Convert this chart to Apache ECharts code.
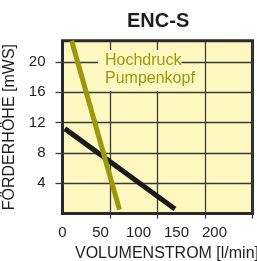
<!DOCTYPE html>
<html>
<head>
<meta charset="utf-8">
<script src="https://cdn.jsdelivr.net/npm/echarts@6/dist/echarts.min.js"></script>
<style>
  html, body { margin: 0; padding: 0; background: #fff; }
  #graph { width: 257px; height: 261px; }
</style>
</head>
<body>
<div id="graph"></div>
<script>
// pump curves (l/min, mWS)
var flowStd = [3, 148];
var headStd = [11.2, 0.6];
var flowHigh = [12, 75];
var headHigh = [22.8, 0.5];

var xTicks = [0, 50, 100, 150, 200];
var yTicks = [4, 8, 12, 16, 20];
var gridCols = [1, 2, 3, 4];

function pairs(xs, ys) {
  var out = [];
  for (var i = 0; i < xs.length; i++) out.push([xs[i], ys[i]]);
  return out;
}

var font = '"Liberation Sans", Arial, sans-serif';
var olive = '#9a990c';
var ink = '#1e1e1e';
var gridLine = '#3a3a3a';
var paper = '#fef8c0';

var dom = document.getElementById('graph');
var myChart = echarts.init(dom);

var option = {
  animation: false,
  title: {
    text: 'ENC-S',
    left: 127,
    top: 11,
    padding: 0,
    textStyle: { fontSize: 20, fontWeight: 'bold', color: ink, fontFamily: font }
  },
  grid: {
    left: 62.5,
    right: 4.5,
    top: 40.7,
    bottom: 47.5,
    show: true,
    backgroundColor: paper,
    borderColor: '#2a2a2a',
    borderWidth: 3,
    outerBoundsMode: 'none'
  },
  xAxis: [{
    type: 'value',
    min: 0,
    max: 250,
    interval: 50,
    position: 'bottom',
    axisLine: { show: false },
    axisTick: { show: false },
    splitLine: { show: false },
    axisLabel: {
      customValues: xTicks,
      fontSize: 15,
      margin: 12,
      color: ink,
      fontFamily: font
    }
  }, {
    // the grid columns don't line up with the labels in the original
    type: 'value',
    min: 0,
    max: 4,
    interval: 1,
    position: 'bottom',
    axisLine: { show: false },
    axisLabel: { show: false },
    axisTick: {
      customValues: gridCols,
      length: 5,
      lineStyle: { color: gridLine, width: 1.3 }
    },
    splitLine: { show: true, lineStyle: { color: gridLine, width: 1.3 } }
  }],
  yAxis: {
    type: 'value',
    min: 0,
    max: 22.8,
    interval: 4,
    name: 'FÖRDERHÖHE [mWS]',
    nameLocation: 'middle',
    nameGap: 40,
    nameTextStyle: { fontSize: 16, color: ink, fontFamily: font },
    axisLine: { show: false },
    axisTick: {
      customValues: yTicks,
      length: 7,
      lineStyle: { color: gridLine, width: 1.3 }
    },
    axisLabel: {
      customValues: yTicks,
      fontSize: 15,
      margin: 17,
      color: ink,
      fontFamily: font
    },
    splitLine: { show: true, lineStyle: { color: gridLine, width: 1.3 } }
  },
  graphic: [{
    type: 'text',
    z: 100,
    x: 98,
    y: 50,
    style: {
      text: 'Hochdruck',
      font: '16px ' + font,
      fill: olive,
      backgroundColor: paper,
      padding: [3, 0, 2, 7]
    }
  }, {
    type: 'text',
    z: 101,
    x: 98,
    y: 71,
    style: {
      text: 'Pumpenkopf',
      font: '16px ' + font,
      fill: olive,
      backgroundColor: paper,
      padding: [0, 0, 4, 7]
    }
  }, {
    type: 'text',
    z: 100,
    x: 75,
    y: 246,
    style: {
      text: 'VOLUMENSTROM [l/min]',
      font: '16px ' + font,
      fill: ink
    }
  }],
  series: [{
    name: 'Standard',
    type: 'line',
    xAxisIndex: 0,
    symbol: 'none',
    lineStyle: { color: '#1a1a1a', width: 5 },
    data: pairs(flowStd, headStd)
  }, {
    name: 'Hochdruck Pumpenkopf',
    type: 'line',
    xAxisIndex: 0,
    symbol: 'none',
    lineStyle: { color: olive, width: 5 },
    data: pairs(flowHigh, headHigh)
  }]
};

myChart.setOption(option);
</script>
</body>
</html>
